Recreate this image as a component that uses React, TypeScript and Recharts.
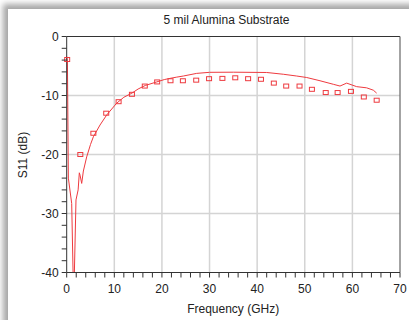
import { ComposedChart, Line, Scatter, XAxis, YAxis, ReferenceLine } from 'recharts';

const freqLine = [0, 0.15, 0.35, 1.05, 1.35, 1.6, 1.95, 2.4, 2.65, 2.8, 3.15, 3.5, 4.2, 5.0, 5.6, 7, 8.4, 10.5, 12, 13.7, 15, 16.5, 18.9, 20.5, 21.7, 23, 24.5, 27.3, 30, 35, 42, 45.5, 48.3, 50.4, 53.2, 56, 57.4, 58.8, 60.9, 63, 64.4, 65.1];
const s11Line = [-3.4, -4, -24, -28.3, -40.5, -40.5, -27.7, -26, -23.1, -23.5, -24.9, -22.8, -20.4, -18.3, -17, -15, -13.3, -11.3, -10.3, -9.6, -8.9, -8.3, -7.7, -7.3, -7.1, -6.9, -6.7, -6.25, -6.07, -6.05, -6.1, -6.4, -6.7, -6.95, -7.5, -8.1, -8.4, -7.9, -8.5, -8.7, -9.1, -9.6];

const freqMeas = [0.1, 2.86, 5.6, 8.3, 10.9, 13.7, 16.4, 19.0, 21.8, 24.4, 27.2, 29.9, 32.7, 35.4, 38.1, 40.8, 43.5, 46.1, 48.9, 51.5, 54.4, 56.9, 59.7, 62.4, 65.1];
const s11Meas = [-3.9, -20, -16.4, -13, -11.05, -9.8, -8.4, -7.7, -7.5, -7.5, -7.4, -7.15, -7.1, -7.0, -7.15, -7.25, -7.9, -8.4, -8.4, -8.95, -9.5, -9.5, -9.3, -10.25, -10.8];

const xTicks = Array.from({ length: 36 }, (_, i) => i * 2);
const yTicks = Array.from({ length: 21 }, (_, i) => -40 + i * 2);
const gridX = [10, 20, 30, 40, 50, 60];
const gridY = [-10, -20, -30];

const lineData = freqLine.map((f, i) => ({ f, s: s11Line[i] }));
const measData = freqMeas.map((f, i) => ({ f, s: s11Meas[i] }));

const RED = '#ee3a3f';
const FONT = '"Liberation Sans", Arial, sans-serif';

function XTick(props: any) {
  const { x, y, payload } = props;
  const major = payload.value % 10 === 0;
  return (
    <g>
      <line x1={x} y1={y} x2={x} y2={y + 5} stroke="#333" strokeWidth={1} />
      {major && (
        <text x={x} y={y + 20} textAnchor="middle" fontSize={12} fill="#222" fontFamily={FONT}>
          {payload.value}
        </text>
      )}
    </g>
  );
}

function YTick(props: any) {
  const { x, y, payload } = props;
  const major = payload.value % 10 === 0;
  return (
    <g>
      <line x1={x - 5} y1={y} x2={x} y2={y} stroke="#333" strokeWidth={1} />
      {major && (
        <text x={x - 8} y={y + 4} textAnchor="end" fontSize={12} fill="#222" fontFamily={FONT}>
          {payload.value}
        </text>
      )}
    </g>
  );
}

function Square(props: any) {
  const { cx, cy } = props;
  return <rect x={cx - 2.5} y={cy - 2} width={5} height={4} fill="none" stroke={RED} strokeWidth={1} />;
}

export default function App() {
  return (
    <div style={{ position: 'absolute', left: 0, top: 0, width: 409, height: 320, background: '#fff', overflow: 'hidden', fontFamily: FONT }}>
      <div
        style={{
          position: 'absolute',
          left: 8,
          top: 9,
          width: 420,
          height: 330,
          background: '#fff',
          boxShadow: '-3px -3px 6px 2px rgba(0,0,0,0.35)',
        }}
      />
      <div style={{ position: 'absolute', left: 0, top: 0 }}>
        <ComposedChart width={409} height={320} margin={{ top: 36.5, right: 9, bottom: 0, left: 0 }}>
          <XAxis
            dataKey="f"
            type="number"
            domain={[0, 70]}
            ticks={xTicks}
            interval={0}
            tick={<XTick />}
            tickSize={0}
            tickMargin={0}
            tickLine={false}
            height={47.5}
            axisLine={{ stroke: '#333', strokeWidth: 1 }}
          />
          <YAxis
            type="number"
            domain={[-40, 0]}
            ticks={yTicks}
            interval={0}
            tick={<YTick />}
            tickSize={0}
            tickMargin={0}
            tickLine={false}
            width={66.7}
            allowDataOverflow
            axisLine={{ stroke: '#333', strokeWidth: 1 }}
          />
          {gridX.map((v) => (
            <ReferenceLine key={'gx' + v} x={v} stroke="#d4d4d4" strokeWidth={1.5} />
          ))}
          {gridY.map((v) => (
            <ReferenceLine key={'gy' + v} y={v} stroke="#d4d4d4" strokeWidth={1.5} />
          ))}
          <ReferenceLine y={0} stroke="#333" strokeWidth={1} />
          <ReferenceLine x={70} stroke="#666" strokeWidth={1.2} />
          <Line
            data={lineData}
            dataKey="s"
            type="linear"
            stroke={RED}
            strokeWidth={1}
            dot={false}
            isAnimationActive={false}
          />
          <Scatter data={measData} dataKey="s" shape={<Square />} isAnimationActive={false} />
        </ComposedChart>
      </div>
      <div style={{ position: 'absolute', left: 0, width: 453, top: 13, textAlign: 'center', fontSize: 12, color: '#222' }}>
        5 mil Alumina Substrate
      </div>
      <div style={{ position: 'absolute', left: 66.7, width: 333, top: 302, textAlign: 'center', fontSize: 12, color: '#222' }}>
        Frequency (GHz)
      </div>
      <div
        style={{
          position: 'absolute',
          left: 23,
          top: 154.5,
          transform: 'translate(-50%, -50%) rotate(-90deg)',
          fontSize: 12,
          color: '#222',
          whiteSpace: 'nowrap',
        }}
      >
        S11 (dB)
      </div>
    </div>
  );
}
